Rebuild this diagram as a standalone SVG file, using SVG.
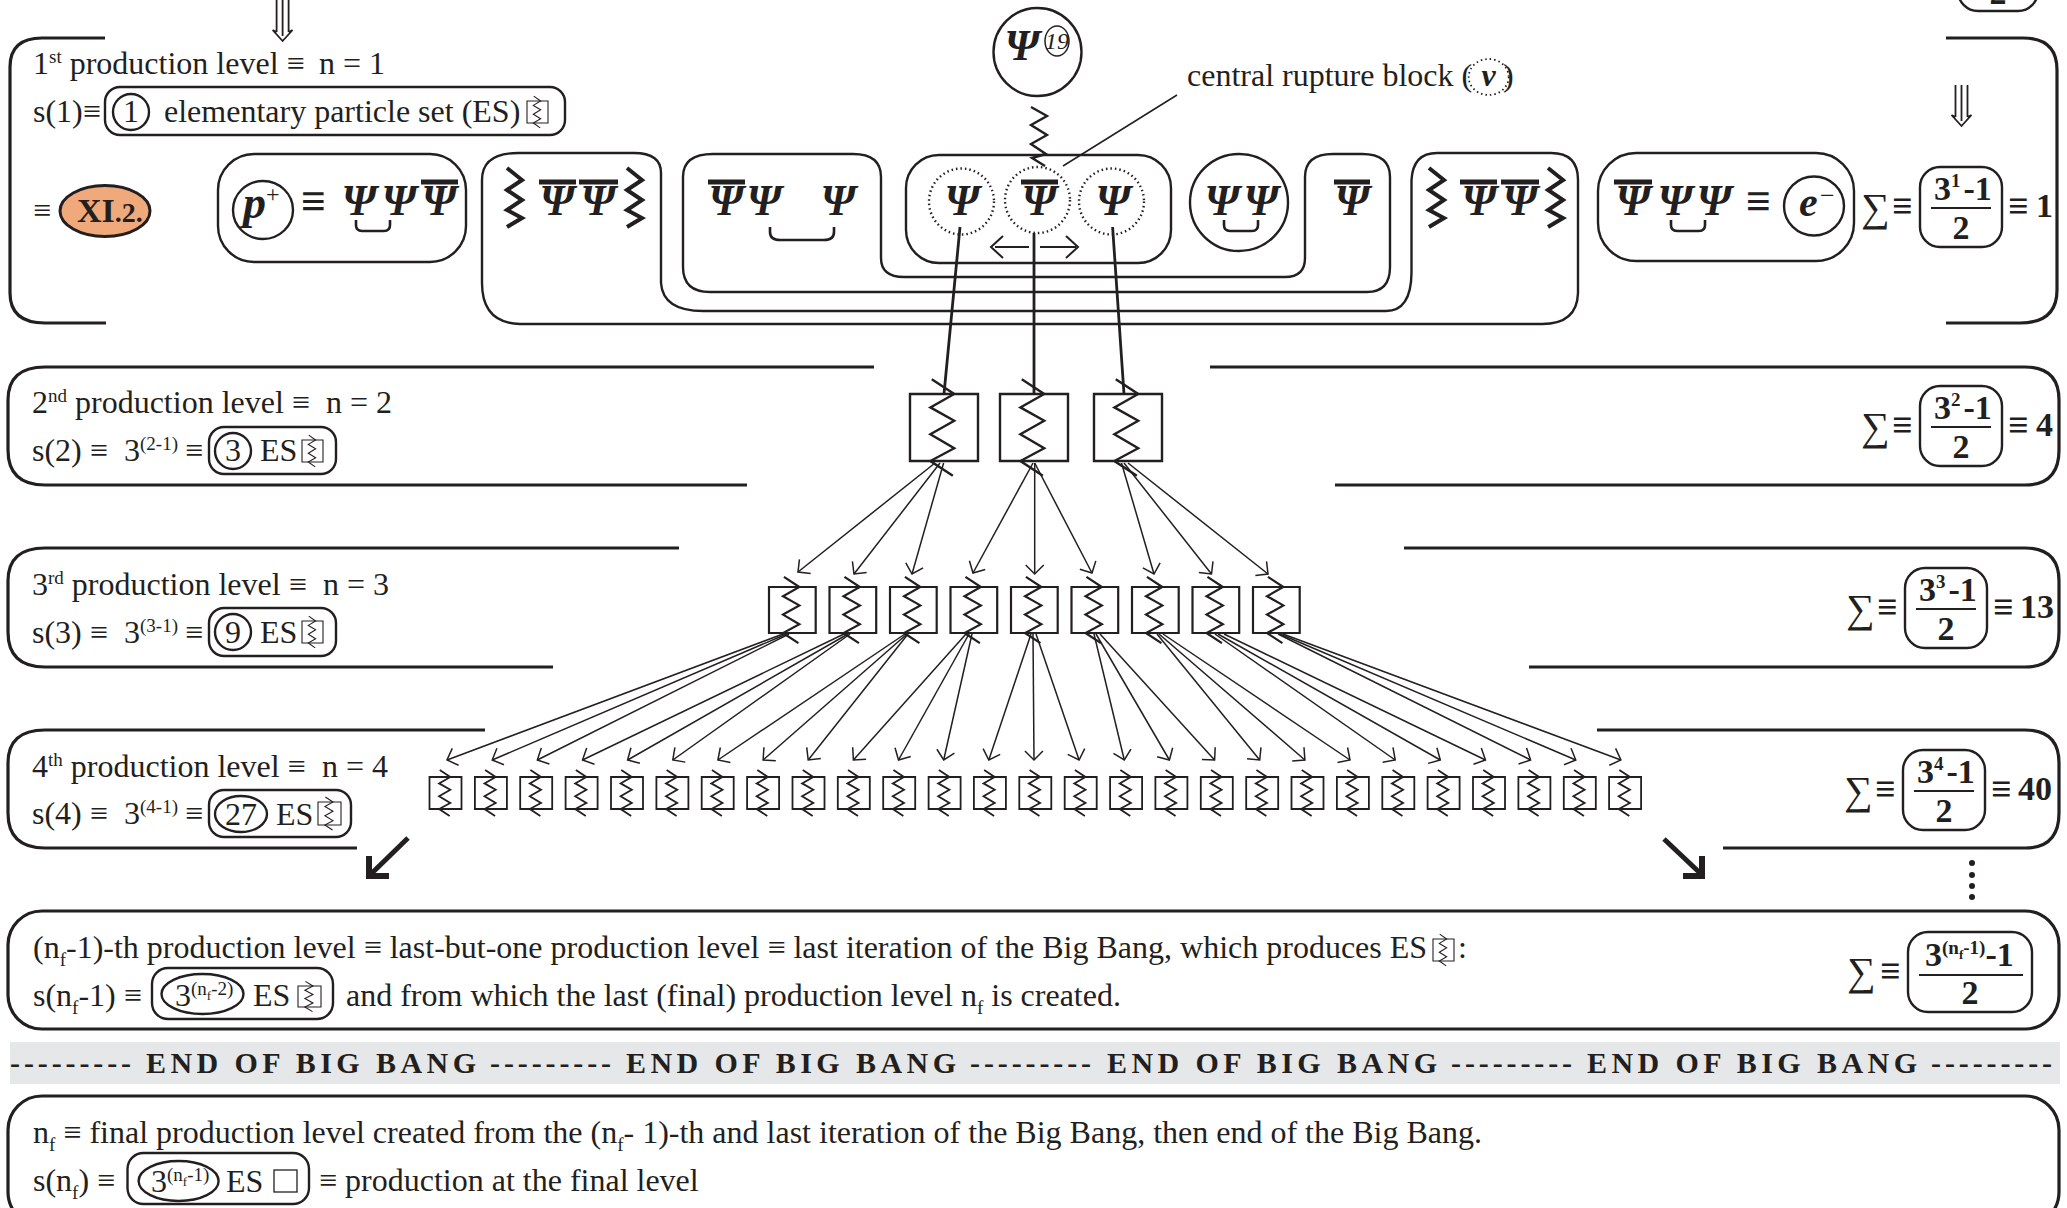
<svg xmlns="http://www.w3.org/2000/svg" width="2067" height="1208" viewBox="0 0 2067 1208">
<style>
text{font-family:"Liberation Serif","Times New Roman",serif;fill:#231f20}
.t{font-size:32px}
.b{font-size:32px;font-weight:bold}
.u{font-size:34px;font-weight:bold}
.e3{font-size:36px;font-weight:bold}
.sg{font-size:40px}
.psi{font-size:44px;font-weight:bold;font-style:italic;text-anchor:middle}
.s{font-size:19px}
.x{font-size:19px}
.m{text-anchor:middle}
.l{fill:none;stroke:#231f20;stroke-width:2.4}
.n{fill:none;stroke:#231f20;stroke-width:2}
.f{fill:none;stroke:#231f20;stroke-width:3.2}
.d{fill:none;stroke:#231f20;stroke-width:2.4;stroke-dasharray:1.5 3}
.bar{stroke:#231f20;stroke-width:5;fill:none}
.br{fill:none;stroke:#231f20;stroke-width:2.6}
.a{fill:none;stroke:#231f20;stroke-width:1.5;marker-end:url(#h)}
.th{fill:none;stroke:#231f20;stroke-width:2.8}
</style>
<defs>
<marker id="h" markerUnits="userSpaceOnUse" markerWidth="24" markerHeight="24" refX="12" refY="12" orient="auto" overflow="visible"><path d="M3 3L12 12L3 21" fill="none" stroke="#231f20" stroke-width="1.5"/></marker>
<g id="es" fill="none" stroke="#231f20">
<rect x="0" y="0" width="100" height="100" vector-effect="non-scaling-stroke"/>
<path d="M32 -22L65 0L30 20L65 40L30 60L65 81L30 100L63 122" vector-effect="non-scaling-stroke"/>
</g>
<g id="frac">
<rect x="1903" y="750" width="82" height="80" rx="20" class="l"/>
<path d="M1914 791H1974" class="n"/>
</g>
<path id="dn" d="M-6 0V32M0 0V36M6 0V32M-10 30L0 41L10 30M-6 32L-10 30M6 32L10 30" fill="none" stroke="#231f20" stroke-width="1.8"/>
<path id="zg" d="M0 0L15 12L0 22L15 32L0 42L15 50L0 59" fill="none" stroke="#231f20" stroke-width="4"/>
<path id="ub" d="M0 0V5Q0 11 6 11H28Q34 11 34 5V0" class="br"/>
</defs>

<g id="connectors">
<path class="th" d="M960 227L944 394M1034 233V394M1112.6 227L1124 394"/>
<path class="a" d="M935 463L798 572"/><path class="a" d="M940 463L854 574"/><path class="a" d="M943.6 463L912 574"/>
<path class="a" d="M1033 463L973 573"/><path class="a" d="M1034.7 463V574"/><path class="a" d="M1034.7 463L1092 573"/>
<path class="a" d="M1121.5 463L1154 574"/><path class="a" d="M1124 463L1211.5 574"/><path class="a" d="M1128 463L1268 574"/>
<path class="a" d="M783 634L447 760"/><path class="a" d="M786.6 634L492.2 760"/><path class="a" d="M789 634L537.3 760"/>
<path class="a" d="M844 634L582.5 760"/><path class="a" d="M848 634L627.6 760"/><path class="a" d="M850 634L672.8 760"/>
<path class="a" d="M905 634L717.9 760"/><path class="a" d="M907 634L763.1 760"/><path class="a" d="M908 634L808.2 760"/>
<path class="a" d="M966 634L853.4 760"/><path class="a" d="M969 634L898.5 760"/><path class="a" d="M972 634L943.7 760"/>
<path class="a" d="M1031 634L988.8 760"/><path class="a" d="M1033 634L1034 760"/><path class="a" d="M1036 634L1079.1 760"/>
<path class="a" d="M1094 634L1124.3 760"/><path class="a" d="M1096 634L1169.4 760"/><path class="a" d="M1100 634L1214.6 760"/>
<path class="a" d="M1157 634L1259.7 760"/><path class="a" d="M1159 634L1304.9 760"/><path class="a" d="M1163 634L1350 760"/>
<path class="a" d="M1215 634L1395.2 760"/><path class="a" d="M1218 634L1440.3 760"/><path class="a" d="M1224 634L1485.5 760"/>
<path class="a" d="M1278 634L1530.6 760"/><path class="a" d="M1280 634L1575.8 760"/><path class="a" d="M1283 634L1620.9 760"/>
<path class="n" d="M1177 95L1063 166" style="stroke-width:1.5"/>
<path class="n" d="M1029 247H995M1003 236L991 247L1003 258M1040 247H1076M1066 236L1078 247L1066 258"/>
<path d="M408 838L372 873" fill="none" stroke="#231f20" stroke-width="5"/><path d="M369 856V876H389" fill="none" stroke="#231f20" stroke-width="6"/>
<path d="M1664 839L1700 873" fill="none" stroke="#231f20" stroke-width="5"/><path d="M1702 856V876H1683" fill="none" stroke="#231f20" stroke-width="6"/>
<use href="#dn" x="282.6" y="0"/>
<use href="#dn" x="1961.5" y="85"/>
</g>

<g id="level-1">
<path class="f" d="M105 38H42Q10 38 10 67V293Q10 323 45 323H106"/>
<path class="f" d="M1946 38H2023Q2057 38 2057 70V290Q2057 323 2020 323H1946"/>
<text class="t" x="33" y="74">1<tspan class="s" dy="-11">st</tspan><tspan dy="11"> production level ≡</tspan><tspan x="319">n = 1</tspan></text>
<text class="t" x="33" y="122">s(1)≡</text>
<rect class="l" x="105" y="87" width="460" height="48" rx="15"/>
<ellipse class="l" cx="131" cy="112" rx="18" ry="18"/>
<text class="t m" x="131" y="122">1</text>
<text class="t" x="164" y="122">elementary particle set (ES)</text>
<use href="#es" transform="translate(527 101) scale(.21 .22)" stroke-width="1.1"/>
<text class="t" x="33" y="221">≡</text>
</g>
<g id="xi2">
<ellipse cx="105" cy="211" rx="45" ry="25.5" fill="#f0a97a" stroke="#231f20" stroke-width="3"/>
<text class="b" x="77" y="222" style="font-size:34px">XI<tspan style="font-size:28px">.2.</tspan></text>
</g>
<g id="proton">
<rect class="l" x="218" y="154" width="248" height="108" rx="36"/>
<ellipse class="l" cx="263" cy="210" rx="30" ry="29"/>
<text x="243" y="218" style="font-size:46px;font-style:italic;font-weight:bold">p</text>
<text x="266" y="202" style="font-size:24px">+</text>
<text class="b" x="301" y="216" style="font-size:44px">≡</text>
<text class="psi" x="359" y="215">Ψ</text><text class="psi" x="399" y="215">Ψ</text><text class="psi" x="439" y="215">Ψ</text>
<path class="bar" d="M421 182H458"/>
<use href="#ub" x="356" y="220"/>
</g>
<g id="block-outer">
<path class="l" d="M482 180Q482 153 518 153H634Q661 153 661 173V283Q663 311 703 311H1386Q1411 311 1411.500 273V180Q1413 153 1437 153H1551Q1578 153 1578 180V293Q1577 324 1542 324H520Q482 323 482 283Z"/>
<use href="#zg" x="507" y="168"/><use href="#zg" x="627" y="168"/>
<text class="psi" x="557" y="215">Ψ</text><text class="psi" x="598" y="215">Ψ</text>
<path class="bar" d="M539 182H576M579 182H618"/>
<use href="#zg" x="1429" y="168"/><use href="#zg" x="1548" y="168"/>
<text class="psi" x="1479" y="215">Ψ</text><text class="psi" x="1520" y="215">Ψ</text>
<path class="bar" d="M1460 182H1497M1501 182H1539"/>
</g>
<g id="block-middle">
<path class="l" d="M683 177Q683 154 713 154H853Q881 154 881 177V258Q881 277 904 277H1285Q1305 277 1305 258V177Q1305 154 1333 154H1362Q1390 154 1390 177V267Q1390 292 1367 292H710Q683 292 683 267Z"/>
<text class="psi" x="726" y="215">Ψ</text><text class="psi" x="764" y="215">Ψ</text><text class="psi" x="838" y="215">Ψ</text>
<path class="bar" d="M708 182H745"/>
<path class="br" d="M770 227V232Q770 240 780 240H824Q834 240 834 232V227"/>
<text class="psi" x="1352" y="215">Ψ</text>
<path class="bar" d="M1334 182H1370"/>
</g>
<g id="central-rupture">
<rect class="l" x="906" y="155" width="265" height="108" rx="33"/>
<ellipse class="d" cx="961.500" cy="201.500" rx="32.500" ry="33"/>
<ellipse class="d" cx="1037.500" cy="200" rx="32.500" ry="33"/>
<ellipse class="d" cx="1111.500" cy="201.500" rx="32.500" ry="33"/>
<text class="psi" x="962" y="215">Ψ</text><text class="psi" x="1039" y="215">Ψ</text><text class="psi" x="1113" y="215">Ψ</text>
<path class="bar" d="M1021 182H1058"/>
</g>
<g id="pair">
<ellipse class="l" cx="1239" cy="202.500" rx="49" ry="48.500"/>
<text class="psi" x="1222" y="215">Ψ</text><text class="psi" x="1261" y="215">Ψ</text>
<use href="#ub" x="1224" y="220"/>
</g>
<g id="electron">
<rect class="l" x="1598" y="153" width="256" height="108" rx="38"/>
<text class="psi" x="1633" y="215">Ψ</text><text class="psi" x="1675" y="215">Ψ</text><text class="psi" x="1714" y="215">Ψ</text>
<path class="bar" d="M1614 182H1652"/>
<use href="#ub" x="1671" y="220"/>
<text class="b" x="1746" y="216" style="font-size:44px">≡</text>
<ellipse class="l" cx="1814" cy="206" rx="30" ry="29.500"/>
<text x="1799" y="216" style="font-size:42px;font-style:italic;font-weight:bold">e</text>
<text x="1820" y="204" style="font-size:26px">−</text>
</g>
<g id="psi19">
<ellipse class="l" cx="1037.500" cy="52" rx="44" ry="44"/>
<text class="psi" x="1022" y="60">Ψ</text>
<ellipse fill="none" stroke="#231f20" stroke-width="1.5" cx="1057" cy="41" rx="12" ry="15"/>
<text x="1057" y="49" class="m" style="font-size:24px;font-style:italic">19</text>
<path d="M1031 107L1047 116L1031 125L1047 135L1031 144L1046 154L1032 158L1045 166" fill="none" stroke="#231f20" stroke-width="2.4"/>
</g>
<g id="label-rupture">
<text class="t" x="1187" y="86">central rupture block (</text>
<ellipse class="d" cx="1488.700" cy="77" rx="20" ry="18" style="stroke-width:1.800"/>
<text x="1488.700" y="86" class="m" style="font-size:32px;font-style:italic;font-weight:bold">v</text>
<text class="t" x="1503" y="86">)</text>
</g>

<g id="level-2">
<path class="f" d="M874 367H45Q8 367 8 400V450Q8 485 45 485H747"/>
<path class="f" d="M1210 367H2025Q2059 367 2059 400V450Q2059 485 2025 485H1335"/>
<text class="t" x="32" y="413">2<tspan class="s" dy="-11">nd</tspan><tspan dy="11"> production level ≡</tspan><tspan x="326">n = 2</tspan></text>
<text class="t" x="32" y="461">s(2) ≡<tspan x="124">3</tspan><tspan class="x" x="140" dy="-11">(2-1)</tspan><tspan x="185" dy="11">≡</tspan></text>
<rect class="l" x="209" y="427" width="127" height="47" rx="15"/>
<ellipse class="l" cx="233" cy="451" rx="18" ry="18"/>
<text class="t m" x="233" y="461">3</text><text class="t" x="260" y="461">ES</text>
<use href="#es" transform="translate(302 440) scale(.21 .22)" stroke-width="1.1"/>
</g>
<g id="level-3">
<path class="f" d="M679 548H45Q8 548 8 581V632Q8 667 45 667H553"/>
<path class="f" d="M1404 548H2025Q2059 548 2059 581V632Q2059 667 2025 667H1529"/>
<text class="t" x="32" y="595">3<tspan class="s" dy="-11">rd</tspan><tspan dy="11"> production level ≡</tspan><tspan x="323">n = 3</tspan></text>
<text class="t" x="32" y="643">s(3) ≡<tspan x="124">3</tspan><tspan class="x" x="140" dy="-11">(3-1)</tspan><tspan x="185" dy="11">≡</tspan></text>
<rect class="l" x="209" y="608" width="127" height="48" rx="15"/>
<ellipse class="l" cx="233" cy="632" rx="18" ry="18"/>
<text class="t m" x="233" y="643">9</text><text class="t" x="260" y="643">ES</text>
<use href="#es" transform="translate(302 621) scale(.21 .22)" stroke-width="1.1"/>
</g>
<g id="level-4">
<path class="f" d="M485 730H45Q8 730 8 763V813Q8 848 45 848H357"/>
<path class="f" d="M1597 730H2025Q2059 730 2059 763V813Q2059 848 2025 848H1723"/>
<text class="t" x="32" y="777">4<tspan class="s" dy="-11">th</tspan><tspan dy="11"> production level ≡</tspan><tspan x="322">n = 4</tspan></text>
<text class="t" x="32" y="824">s(4) ≡<tspan x="124">3</tspan><tspan class="x" x="140" dy="-11">(4-1)</tspan><tspan x="185" dy="11">≡</tspan></text>
<rect class="l" x="209" y="790" width="142" height="47" rx="15"/>
<ellipse class="l" cx="241" cy="814" rx="26" ry="18"/>
<text class="t m" x="241" y="825">27</text><text class="t" x="276" y="825">ES</text>
<use href="#es" transform="translate(318 802) scale(.23 .23)" stroke-width="1.1"/>
</g>

<g id="es-level-2" stroke-width="2.4">
<use href="#es" transform="translate(910 394) scale(.68 .67)"/>
<use href="#es" transform="translate(1000 394) scale(.68 .67)"/>
<use href="#es" transform="translate(1094 394) scale(.68 .67)"/>
</g>
<g id="es-level-3" stroke-width="2.200">
<use href="#es" transform="translate(769 587) scale(.467 .46)"/>
<use href="#es" transform="translate(829.500 587) scale(.467 .46)"/>
<use href="#es" transform="translate(890 587) scale(.467 .46)"/>
<use href="#es" transform="translate(950.500 587) scale(.467 .46)"/>
<use href="#es" transform="translate(1011 587) scale(.467 .46)"/>
<use href="#es" transform="translate(1071.500 587) scale(.467 .46)"/>
<use href="#es" transform="translate(1132 587) scale(.467 .46)"/>
<use href="#es" transform="translate(1192.500 587) scale(.467 .46)"/>
<use href="#es" transform="translate(1253 587) scale(.467 .46)"/>
</g>
<g id="es-level-4" stroke-width="1.800">
<use href="#es" transform="translate(429.500 777) scale(.32)"/><use href="#es" transform="translate(474.900 777) scale(.32)"/><use href="#es" transform="translate(520.200 777) scale(.32)"/>
<use href="#es" transform="translate(565.600 777) scale(.32)"/><use href="#es" transform="translate(611 777) scale(.32)"/><use href="#es" transform="translate(656.400 777) scale(.32)"/>
<use href="#es" transform="translate(701.700 777) scale(.32)"/><use href="#es" transform="translate(747.100 777) scale(.32)"/><use href="#es" transform="translate(792.500 777) scale(.32)"/>
<use href="#es" transform="translate(837.800 777) scale(.32)"/><use href="#es" transform="translate(883.200 777) scale(.32)"/><use href="#es" transform="translate(928.600 777) scale(.32)"/>
<use href="#es" transform="translate(973.900 777) scale(.32)"/><use href="#es" transform="translate(1019.300 777) scale(.32)"/><use href="#es" transform="translate(1064.700 777) scale(.32)"/>
<use href="#es" transform="translate(1110.100 777) scale(.32)"/><use href="#es" transform="translate(1155.400 777) scale(.32)"/><use href="#es" transform="translate(1200.800 777) scale(.32)"/>
<use href="#es" transform="translate(1246.200 777) scale(.32)"/><use href="#es" transform="translate(1291.500 777) scale(.32)"/><use href="#es" transform="translate(1336.900 777) scale(.32)"/>
<use href="#es" transform="translate(1382.300 777) scale(.32)"/><use href="#es" transform="translate(1427.600 777) scale(.32)"/><use href="#es" transform="translate(1473 777) scale(.32)"/>
<use href="#es" transform="translate(1518.400 777) scale(.32)"/><use href="#es" transform="translate(1563.800 777) scale(.32)"/><use href="#es" transform="translate(1609.100 777) scale(.32)"/>
</g>

<g id="sum-prev">
<rect class="l" x="1958" y="-60" width="80" height="71" rx="20"/>
<text class="u m" x="1998" y="4">2</text>
</g>
<g id="sum-1" transform="translate(17 -583)">
<text class="sg" x="1844" y="804">∑</text><text class="e3" x="1875" y="801">≡</text>
<use href="#frac"/>
<text class="u" x="1917" y="783">3<tspan class="s" dy="-13">1</tspan><tspan dy="13" dx="3">-1</tspan></text>
<text class="u m" x="1944" y="822">2</text>
<text class="e3" x="1991" y="801">≡</text><text class="u" x="2019" y="800">1</text>
</g>
<g id="sum-2" transform="translate(17 -364)">
<text class="sg" x="1844" y="804">∑</text><text class="e3" x="1875" y="801">≡</text>
<use href="#frac"/>
<text class="u" x="1917" y="783">3<tspan class="s" dy="-13">2</tspan><tspan dy="13" dx="3">-1</tspan></text>
<text class="u m" x="1944" y="822">2</text>
<text class="e3" x="1991" y="801">≡</text><text class="u" x="2019" y="800">4</text>
</g>
<g id="sum-3" transform="translate(2 -182)">
<text class="sg" x="1844" y="804">∑</text><text class="e3" x="1875" y="801">≡</text>
<use href="#frac"/>
<text class="u" x="1917" y="783">3<tspan class="s" dy="-13">3</tspan><tspan dy="13" dx="3">-1</tspan></text>
<text class="u m" x="1944" y="822">2</text>
<text class="e3" x="1991" y="801">≡</text><text class="u" x="2018" y="800">13</text>
</g>
<g id="sum-4">
<text class="sg" x="1844" y="804">∑</text><text class="e3" x="1875" y="801">≡</text>
<use href="#frac"/>
<text class="u" x="1917" y="783">3<tspan class="s" dy="-13">4</tspan><tspan dy="13" dx="3">-1</tspan></text>
<text class="u m" x="1944" y="822">2</text>
<text class="e3" x="1991" y="801">≡</text><text class="u" x="2018" y="800">40</text>
</g>
<g id="dots" fill="#231f20"><circle cx="1972" cy="863" r="3"/><circle cx="1972" cy="875" r="3"/><circle cx="1972" cy="886" r="3"/><circle cx="1972" cy="897" r="3"/></g>

<g id="level-penultimate">
<rect class="f" x="8" y="911" width="2051" height="118" rx="34"/>
<text class="t" x="33" y="958">(n<tspan class="s" dy="8">f</tspan><tspan dy="-8">-1)-th production level ≡ last-but-one production level ≡ last iteration of the Big Bang, which produces ES</tspan></text>
<use href="#es" transform="translate(1433 939) scale(.21 .22)" stroke-width="1.1"/>
<text class="t" x="1458" y="958">:</text>
<text class="t" x="33" y="1006">s(n<tspan class="s" dy="8">f</tspan><tspan dy="-8">-1) ≡</tspan></text>
<rect class="l" x="152" y="968" width="181" height="51" rx="16"/>
<ellipse class="l" cx="202.500" cy="994" rx="41" ry="20"/>
<text class="t" x="175" y="1006">3<tspan class="s" dy="-11">(n</tspan><tspan style="font-size:13px" dy="5">f</tspan><tspan class="s" dy="-5">-2)</tspan></text>
<text class="t" x="253" y="1006">ES</text>
<use href="#es" transform="translate(298 986) scale(.23 .21)" stroke-width="1.1"/>
<text class="t" x="346" y="1006">and from which the last (final) production level n<tspan class="s" dy="8">f</tspan><tspan dy="-8"> is created.</tspan></text>
<text class="sg" x="1847" y="985">∑</text><text class="e3" x="1880" y="983">≡</text>
<rect class="l" x="1908" y="932" width="124" height="80" rx="20"/>
<path class="n" d="M1919 975H2023"/>
<text class="u" x="1925" y="966">3<tspan class="s" dy="-12" style="font-weight:bold">(n</tspan><tspan style="font-size:13px" dy="5">f</tspan><tspan class="s" dy="-5">-1)</tspan><tspan dy="12">-1</tspan></text>
<text class="u m" x="1970" y="1004">2</text>
</g>
<g id="banner">
<rect x="10" y="1042" width="2050" height="42" fill="#e6e7e8"/>
<text class="b" x="10" y="1073" textLength="121" style="font-size:30px">---------</text>
<text class="b" x="146" y="1073" textLength="330" style="font-size:30px">END OF BIG BANG</text>
<text class="b" x="490" y="1073" textLength="121" style="font-size:30px">---------</text>
<text class="b" x="626" y="1073" textLength="330" style="font-size:30px">END OF BIG BANG</text>
<text class="b" x="970" y="1073" textLength="121" style="font-size:30px">---------</text>
<text class="b" x="1107" y="1073" textLength="330" style="font-size:30px">END OF BIG BANG</text>
<text class="b" x="1451" y="1073" textLength="121" style="font-size:30px">---------</text>
<text class="b" x="1587" y="1073" textLength="330" style="font-size:30px">END OF BIG BANG</text>
<text class="b" x="1931" y="1073" textLength="121" style="font-size:30px">---------</text>
</g>
<g id="level-final">
<rect class="f" x="8" y="1096" width="2051" height="130" rx="34"/>
<text class="t" x="33" y="1143">n<tspan class="s" dy="8">f</tspan><tspan dy="-8"> ≡ final production level created from the (n</tspan><tspan class="s" dy="8">f</tspan><tspan dy="-8">- 1)-th and last iteration of the Big Bang, then end of the Big Bang.</tspan></text>
<text class="t" x="33" y="1191">s(n<tspan class="s" dy="8">f</tspan><tspan dy="-8">) ≡</tspan></text>
<rect class="l" x="127.500" y="1153" width="181.500" height="51" rx="16"/>
<ellipse class="l" cx="178.600" cy="1181" rx="40" ry="20"/>
<text class="t" x="151" y="1192">3<tspan class="s" dy="-11">(n</tspan><tspan style="font-size:13px" dy="5">f</tspan><tspan class="s" dy="-5">-1)</tspan></text>
<text class="t" x="226" y="1192">ES</text>
<rect x="274" y="1170" width="23" height="22" fill="none" stroke="#231f20" stroke-width="1.300"/>
<text class="t" x="319" y="1191">≡ production at the final level</text>
</g>
</svg>
